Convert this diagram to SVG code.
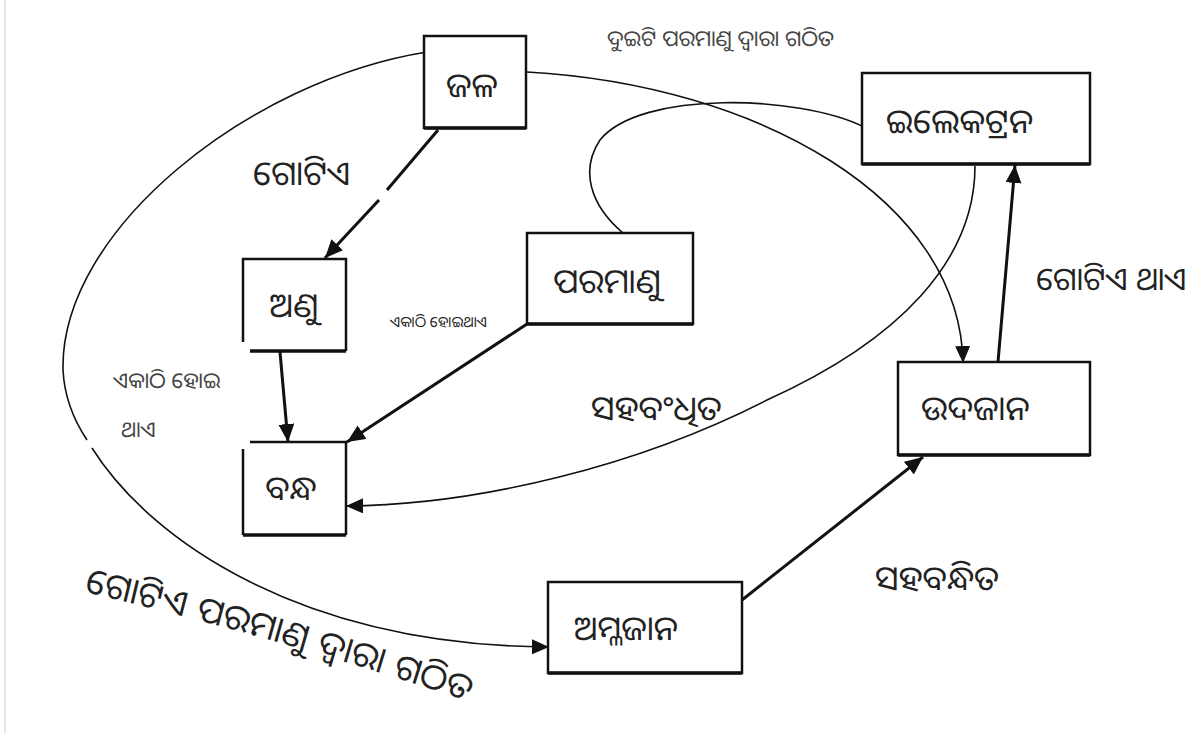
<svg xmlns="http://www.w3.org/2000/svg" width="1199" height="733" viewBox="0 0 1199 733">
<style>
.box{fill:#fff;stroke:#111;stroke-width:2.5}
.edge{fill:none;stroke:#111;stroke-width:2.5}
.bot{fill:none;stroke:#111;stroke-width:3.5}
.t{font-family:"Noto Sans Oriya","Noto Sans Odia","Lohit Odia","Noto Sans",sans-serif;fill:#222}
.big{font-size:34px}
.sm{font-size:22px;fill:#444}
.thick{fill:none;stroke:#111;stroke-width:3}
.thin{fill:none;stroke:#111;stroke-width:1.6}
</style>
<defs>
<marker id="ah" markerUnits="userSpaceOnUse" markerWidth="20" markerHeight="18" refX="18" refY="8" orient="auto">
<path d="M0,0 L18,8 L0,16 z" fill="#111"/>
</marker>
<marker id="ahs" markerUnits="userSpaceOnUse" markerWidth="18" markerHeight="16" refX="17" refY="7.5" orient="auto">
<path d="M0,0 L17,7.5 L0,15 z" fill="#111"/>
</marker>
<path id="curvetext" d="M 84,592 Q 290,640 500,712"/>
</defs>
<rect width="1199" height="733" fill="#fff"/>
<line x1="5" y1="0" x2="5" y2="733" stroke="#ddd" stroke-width="1.5"/>

<g id="connectors">
<path class="thin" d="M427,52 C250,80 60,230 63,370 C64.5,400 75,422 87,440"/>
<path class="thin" d="M92,448 C150,540 300,645 549,647" marker-end="url(#ahs)"/>
<path class="thin" d="M527,72 C760,85 960,200 963,363" marker-end="url(#ahs)"/>
<path class="thin" d="M864,127 C800,95 640,90 600,140 C580,170 590,205 623,233"/>
<path class="thin" d="M975,166 C975,260 900,340 767,400 C640,465 480,505 346,506" marker-end="url(#ahs)"/>
<line x1="584" y1="480" x2="598" y2="476" stroke="#fff" stroke-width="4"/>
<line class="thick" x1="438" y1="130" x2="387" y2="190"/>
<line class="thick" x1="379" y1="200" x2="325" y2="258" marker-end="url(#ah)"/>
<line class="thick" x1="280" y1="352" x2="288" y2="442" marker-end="url(#ah)"/>
<line class="thick" x1="527" y1="324" x2="347" y2="442" marker-end="url(#ah)"/>
<line class="thick" x1="742" y1="600" x2="923" y2="457" marker-end="url(#ah)"/>
<line class="thick" x1="998" y1="362" x2="1015" y2="165" marker-end="url(#ah)"/>
</g>

<g id="node-jal">
<rect class="box" x="424" y="36" width="102" height="92"/>
<line class="bot" x1="424" y1="128" x2="526" y2="128"/>
<text class="t big" x="472" y="97" text-anchor="middle">ଜଳ</text>
</g>
<g id="node-anu">
<path class="edge" d="M243,342 V259 H346 V351"/>
<line class="bot" x1="250" y1="351" x2="346" y2="351"/>
<text class="t big" x="294" y="317" text-anchor="middle">ଅଣୁ</text>
</g>
<g id="node-paramanu">
<rect class="box" x="527" y="233" width="166" height="91"/>
<line class="bot" x1="527" y1="324" x2="693" y2="324"/>
<text class="t big" x="607" y="293" text-anchor="middle">ପରମାଣୁ</text>
</g>
<g id="node-electron">
<rect class="box" x="862" y="73" width="228" height="91"/>
<line class="bot" x1="862" y1="164" x2="1090" y2="164"/>
<text class="t big" x="886" y="133">ଇଲେକଟ୍ରନ</text>
</g>
<g id="node-udajan">
<rect class="box" x="898" y="362" width="192" height="93"/>
<line class="bot" x1="898" y1="455" x2="1090" y2="455"/>
<text class="t big" x="921" y="420">ଉଦଜାନ</text>
</g>
<g id="node-bandha">
<path class="edge" d="M250,442 H346 V535"/>
<path class="edge" d="M243,449 V535"/>
<line class="bot" x1="243" y1="535" x2="346" y2="535"/>
<text class="t big" x="291" y="500" text-anchor="middle">ବନ୍ଧ</text>
</g>
<g id="node-amlajan">
<rect class="box" x="548" y="582" width="194" height="91"/>
<line class="bot" x1="548" y1="673" x2="742" y2="673"/>
<text class="t big" x="574" y="640">ଅମ୍ଳଜାନ</text>
</g>

<g id="labels">
<text class="t sm" x="607" y="46">ଦୁଇଟି ପରମାଣୁ ଦ୍ୱାରା ଗଠିତ</text>
<text class="t big" x="253" y="185">ଗୋଟିଏ</text>
<text class="t" x="390" y="327" font-size="15" fill="#444">ଏକାଠି ହୋଇଥାଏ</text>
<text class="t sm" x="113" y="388">ଏକାଠି ହୋଇ</text>
<text class="t sm" x="121" y="437">ଥାଏ</text>
<text class="t big" x="591" y="420">ସହବଂଧିତ</text>
<text class="t" x="1036" y="290" font-size="32">ଗୋଟିଏ ଥାଏ</text>
<text class="t big" x="875" y="590">ସହବନ୍ଧିତ</text>
<text class="t" font-size="36" word-spacing="2"><textPath href="#curvetext">ଗୋଟିଏ ପରମାଣୁ ଦ୍ୱାରା ଗଠିତ</textPath></text>
</g>
</svg>
